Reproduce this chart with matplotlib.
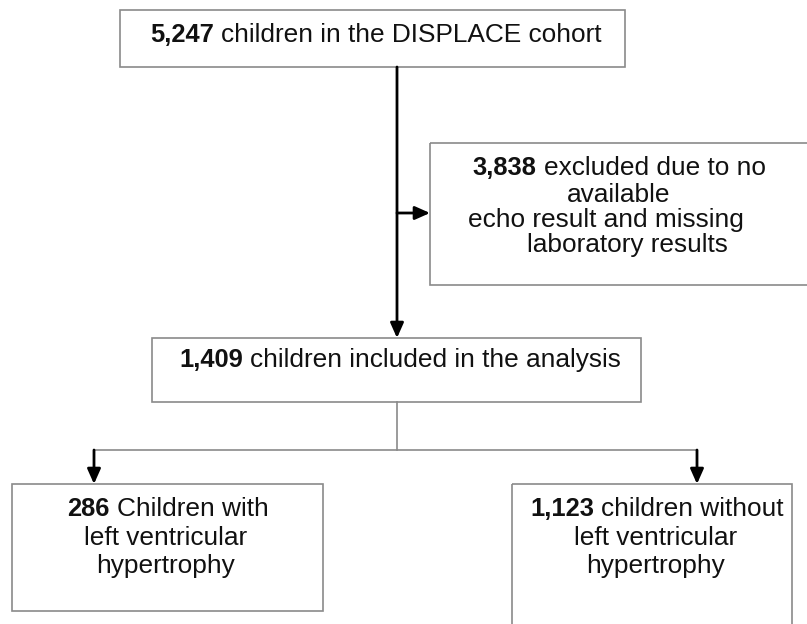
import matplotlib.pyplot as plt
from matplotlib.patches import Rectangle

plt.rcParams['font.family'] = ['Liberation Sans', 'DejaVu Sans']

# counts (bold) and the text that follows them, one list of lines per box
counts = ["5,247", "3,838", "1,409", "286", "1,123"]
first_lines = [
    "children in the DISPLACE cohort",
    "excluded due to no",
    "children included in the analysis",
    "Children with",
    "children without",
]
more_lines = [
    [],
    ["available", "echo result and missing", "laboratory results"],
    [],
    ["left ventricular", "hypertrophy"],
    ["left ventricular", "hypertrophy"],
]

# box geometry in pixels: x0, y0 (top), x1, y1 (bottom)
boxes = [
    (120, 10, 625, 67),
    (430, 143, 812, 285),
    (152, 338, 641, 402),
    (12, 484, 323, 611),
    (512, 484, 792, 640),
]
# text centre x and baseline y of every line in each box
line_x = [[376], [619, 619, 606, 627], [400], [168, 166, 166], [657, 656, 656]]
line_y = [[42], [175, 202, 227, 252], [367], [516, 545, 573], [516, 545, 573]]

W, H = 807, 624
fig = plt.figure(figsize=(W / 100, H / 100), dpi=100)
ax = fig.add_axes([0, 0, 1, 1])
ax.set_xlim(0, W)
ax.set_ylim(H, 0)
ax.axis("off")

fs_b = 18.4
fs = 18.9
ink = "#111111"
edge = "#8a8a8a"
renderer = fig.canvas.get_renderer()


def width(s, size, weight):
    t = ax.text(0, 0, s, fontsize=size, fontweight=weight)
    bb = t.get_window_extent(renderer)
    t.remove()
    return bb.width


gap = width("a a", fs, "normal") - width("aa", fs, "normal")

for i, (x0, y0, x1, y1) in enumerate(boxes):
    ax.add_patch(Rectangle((x0, y0), x1 - x0, y1 - y0, fill=False,
                           edgecolor=edge, linewidth=1.2))
    wb = width(counts[i], fs_b, "bold")
    wr = width(first_lines[i], fs, "normal")
    left = line_x[i][0] - (wb + gap + wr) / 2
    ax.text(left, line_y[i][0], counts[i], fontsize=fs_b, fontweight="bold",
            ha="left", va="baseline", color=ink)
    ax.text(left + wb + gap, line_y[i][0], first_lines[i], fontsize=fs,
            ha="left", va="baseline", color=ink)
    for k, s in enumerate(more_lines[i]):
        ax.text(line_x[i][k + 1], line_y[i][k + 1], s, fontsize=fs,
                ha="center", va="baseline", color=ink)

arrow = dict(arrowstyle="-|>,head_length=0.9,head_width=0.4", color="black",
             lw=2, shrinkA=0, shrinkB=0)

# main stem with arrow to the included box
ax.annotate("", xy=(397, 338), xytext=(397, 67), arrowprops=arrow)
# side arrow to the excluded box
ax.annotate("", xy=(430, 213), xytext=(397, 213), arrowprops=arrow)
# split connector
ax.plot([397, 397], [402, 450], color=edge, lw=1.2)
ax.plot([94, 697], [450, 450], color=edge, lw=1.2)
ax.annotate("", xy=(94, 484), xytext=(94, 450), arrowprops=arrow)
ax.annotate("", xy=(697, 484), xytext=(697, 450), arrowprops=arrow)

fig.savefig("out.png", dpi=100)
